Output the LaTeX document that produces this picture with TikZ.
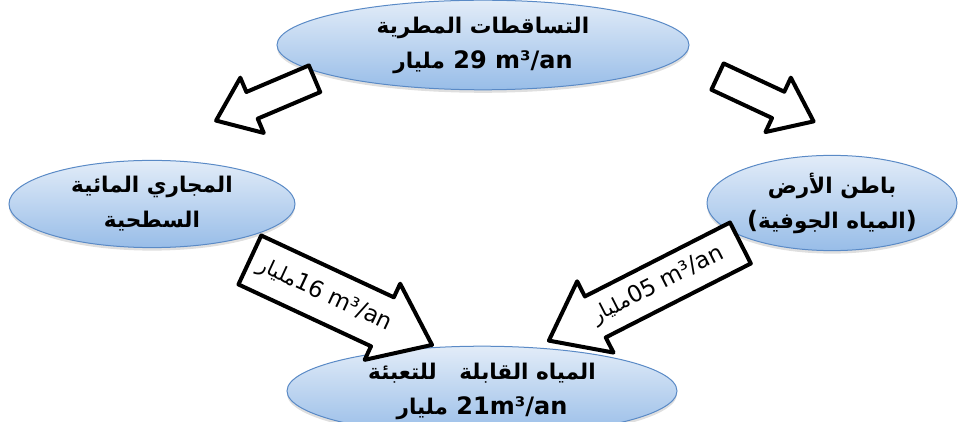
\documentclass[tikz,border=0pt]{standalone}
\usepackage{fontspec}
\setmainfont{DejaVu Sans}
\newfontfamily\arabicfont[Script=Arabic, Scale=0.9]{DejaVu Sans}
\TeXXeTstate=1
\usetikzlibrary{shapes.geometric, shapes.arrows, shadows}

\definecolor{bulleHaut}{HTML}{E2ECF8}
\definecolor{bulleBas}{HTML}{98BDE8}
\definecolor{bulleBord}{HTML}{5A8AC6}

\begin{document}
\begin{tikzpicture}[x=1pt, y=1pt,
    bulle/.style={ellipse, draw=bulleBord, line width=1pt, top color=bulleHaut, bottom color=bulleBas,
        drop shadow={shadow xshift=0pt, shadow yshift=-3pt, opacity=0.25},
        align=center, font=\bfseries\fontsize{24}{35}\selectfont},
    fleche/.style={single arrow, draw=black, line width=4pt, fill=white, inner xsep=0pt,
        single arrow tip angle=75, line join=round, font=\fontsize{23}{24}\selectfont},
    fleche vide/.style={fleche, inner ysep=12.5pt, single arrow head extend=15.5pt},
    fleche pleine/.style={fleche, text height=16pt, text depth=4pt, inner ysep=15pt, single arrow head extend=15pt}]
    \useasboundingbox (0,0) rectangle (962,421);

    % Bulles
    \node[bulle, minimum width=412, minimum height=80] (pluie) at (483,376)
        {{\arabicfont\beginR التساقطات المطرية\endR}\\{\arabicfont\beginR مليار\endR}\ 29 m³/an};
    \node[bulle, minimum width=286, minimum height=82] (surface) at (152,217)
        {{\arabicfont\beginR المجاري المائية\endR}\\{\arabicfont\beginR السطحية\endR}};
    \node[bulle, minimum width=250, minimum height=84] (souterraine) at (832,218)
        {{\arabicfont\beginR باطن الأرض\endR}\\({\arabicfont\beginR المياه الجوفية\endR})};
    \node[bulle, minimum width=390, minimum height=78] (mobilisable) at (482,30)
        {{\arabicfont\beginR المياه القابلة \ \ للتعبئة\endR}\\{\arabicfont\beginR مليار\endR}\ 21m³/an};

    % Flèches vides
    \node[fleche vide, rotate=203, minimum height=107] (flecheA) at (274,325) {};
    \node[fleche vide, rotate=-25, minimum height=106] (flecheB) at (757,326) {};

    % Flèches avec débit
    \node[fleche pleine, rotate=-25, minimum height=201] (flecheC) at (325,126)
        {{\arabicfont\beginR مليار\endR}16 m³/an};
    \node[fleche pleine, rotate=27, shape border rotate=180, minimum height=215, inner ysep=11pt, single arrow head extend=17pt] (flecheD) at (658,136)
        {{\arabicfont\beginR مليار\endR}05 m³/an};
\end{tikzpicture}
\end{document}
